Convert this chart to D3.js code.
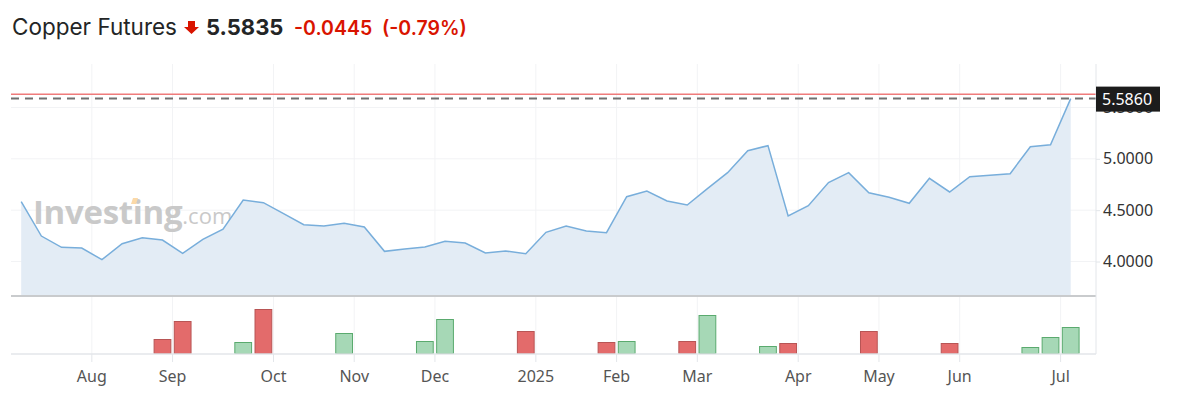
<!DOCTYPE html>
<html>
<head>
<meta charset="utf-8">
<script src="https://cdn.jsdelivr.net/npm/d3@7"></script>
<style>
  body { margin: 0; background: #fff; }
  svg { display: block; }
</style>
</head>
<body>
<div id="chart"></div>
<script>
// weekly closes, one year of copper futures
const weeks = [
  "2024-07-07", "2024-07-14", "2024-07-21", "2024-07-28", "2024-08-04", "2024-08-11",
  "2024-08-18", "2024-08-25", "2024-09-01", "2024-09-08", "2024-09-15", "2024-09-22",
  "2024-09-29", "2024-10-06", "2024-10-13", "2024-10-20", "2024-10-27", "2024-11-03",
  "2024-11-10", "2024-11-17", "2024-11-24", "2024-12-01", "2024-12-08", "2024-12-15",
  "2024-12-22", "2024-12-29", "2025-01-05", "2025-01-12", "2025-01-19", "2025-01-26",
  "2025-02-02", "2025-02-09", "2025-02-16", "2025-02-23", "2025-03-02", "2025-03-09",
  "2025-03-16", "2025-03-23", "2025-03-30", "2025-04-06", "2025-04-13", "2025-04-20",
  "2025-04-27", "2025-05-04", "2025-05-11", "2025-05-18", "2025-05-25", "2025-06-01",
  "2025-06-08", "2025-06-15", "2025-06-22", "2025-06-29", "2025-07-06"
];

const closes = [
  4.582, 4.248, 4.138, 4.131, 4.018, 4.173, 4.232, 4.209, 4.080, 4.216, 4.314, 4.599,
  4.573, 4.466, 4.358, 4.346, 4.372, 4.336, 4.099, 4.122, 4.141, 4.197, 4.180, 4.083,
  4.102, 4.076, 4.284, 4.346, 4.297, 4.281, 4.631, 4.686, 4.589, 4.550, 4.709, 4.865,
  5.079, 5.128, 4.443, 4.543, 4.769, 4.865, 4.670, 4.625, 4.567, 4.810, 4.677, 4.826,
  4.839, 4.855, 5.118, 5.137, 5.586
];

const volumes = [
  0, 0, 0, 0, 0, 0, 0, 1400, 3200, 0, 0, 1100,
  4400, 0, 0, 0, 2000, 0, 0, 0, 1200, 3400, 0, 0,
  0, 2200, 0, 0, 0, 1100, 1200, 0, 0, 1200, 3800, 0,
  0, 700, 1000, 0, 0, 0, 2200, 0, 0, 0, 1000, 0,
  0, 0, 600, 1600, 2600
];

const monthLabels = ["Aug", "Sep", "Oct", "Nov", "Dec", "2025", "Feb", "Mar", "Apr", "May", "Jun", "Jul"];
const monthFirstWeeks = [
  "2024-08-04", "2024-09-01", "2024-10-06", "2024-11-03", "2024-12-01", "2025-01-05",
  "2025-02-02", "2025-03-02", "2025-04-06", "2025-05-04", "2025-06-01", "2025-07-06"
];

const priceTicks = [4.0, 4.5, 5.0, 5.5];
const lastPrice = 5.586;
const prevClose = 5.628;

const title = "Copper Futures";
const quote = "5.5835";
const change = "-0.0445  (-0.79%)";

const W = 1183, H = 394;
const left = 11, axisX = 1096;

const svg = d3.select("#chart").append("svg")
  .attr("width", W)
  .attr("height", H);

const x = d3.scalePoint()
  .domain(weeks)
  .range([21.2, 1070.7]);
const step = x.step();

const y = d3.scaleLinear()
  .domain([3.674, 5.923])
  .range([295, 64]);

const yVol = d3.scaleLinear()
  .domain([0, 5600])
  .range([353.5, 297.5]);

// month tick positions sit half a week before the first week of the month
const monthX = monthFirstWeeks.map(w => x(w) - step / 2);

// header
svg.append("text")
  .attr("x", 12)
  .attr("y", 35)
  .style("font-family", "Inter, 'Noto Sans', sans-serif")
  .style("font-size", "22.5px")
  .attr("fill", "#232526")
  .text(title);

svg.append("path")
  .attr("d", "M188,21 h7 v6 h4 l-7.5,7 l-7.5,-7 h4 z")
  .attr("fill", "#d91400");

svg.append("text")
  .attr("x", 206)
  .attr("y", 35)
  .style("font-family", "Inter, 'Noto Sans', sans-serif")
  .style("font-size", "22px")
  .style("font-weight", 700)
  .attr("fill", "#232526")
  .text(quote);

svg.append("text")
  .attr("x", 294)
  .attr("y", 35)
  .style("font-family", "Inter, 'Noto Sans', sans-serif")
  .style("font-size", "19.5px")
  .style("font-weight", 600)
  .style("white-space", "pre")
  .attr("fill", "#d91400")
  .text(change);

// grid
svg.append("g").selectAll("line")
  .data(monthX)
  .enter().append("line")
  .attr("x1", d => d).attr("x2", d => d)
  .attr("y1", 64).attr("y2", 354)
  .attr("stroke", "#f2f3f5");

svg.append("g").selectAll("line")
  .data(priceTicks)
  .enter().append("line")
  .attr("x1", left).attr("x2", axisX)
  .attr("y1", d => y(d)).attr("y2", d => y(d))
  .attr("stroke", "#f2f3f5");

// watermark
const wm = svg.append("g");
wm.append("text")
  .attr("x", 33)
  .attr("y", 224)
  .style("font-family", "'Open Sans', 'Noto Sans', sans-serif")
  .style("font-size", "33px")
  .style("font-weight", 700)
  .style("letter-spacing", "-0.3px")
  .attr("fill", "#c9c9c9")
  .text("Investing")
  .append("tspan")
  .style("font-weight", 400)
  .style("font-size", "22px")
  .style("letter-spacing", "0px")
  .text(".com");
wm.append("path")
  .attr("d", "M131,204 l2,-6 h5 l-2,6 z")
  .attr("fill", "#fbd9a8");

// price area + line
const area = d3.area()
  .x((d, i) => x(weeks[i]))
  .y0(295)
  .y1(d => y(d));

const line = d3.line()
  .x((d, i) => x(weeks[i]))
  .y(d => y(d));

svg.append("path")
  .datum(closes)
  .attr("d", area)
  .attr("fill", "#e3ecf5");

svg.append("path")
  .datum(closes)
  .attr("d", line)
  .attr("fill", "none")
  .attr("stroke", "#78aedb")
  .attr("stroke-width", 1.5);

// previous close and last price
svg.append("line")
  .attr("x1", left).attr("x2", axisX)
  .attr("y1", y(prevClose)).attr("y2", y(prevClose))
  .attr("stroke", "#ef7b7b")
  .attr("stroke-width", 1.5);

svg.append("line")
  .attr("x1", left).attr("x2", axisX)
  .attr("y1", y(lastPrice)).attr("y2", y(lastPrice))
  .attr("stroke", "#707070")
  .attr("stroke-width", 2)
  .attr("stroke-dasharray", "8,6");

// pane separator
svg.append("line")
  .attr("x1", left).attr("x2", axisX)
  .attr("y1", 296).attr("y2", 296)
  .attr("stroke", "#c9cbcd")
  .attr("stroke-width", 2);

// volume bars
const barW = step * 0.88;
svg.append("g").selectAll("rect")
  .data(volumes)
  .enter().append("rect")
  .attr("x", (d, i) => x(weeks[i]) - barW / 2 + 0.5)
  .attr("y", d => yVol(d))
  .attr("width", barW - 1)
  .attr("height", d => yVol(0) - yVol(d))
  .attr("fill", (d, i) => i > 0 && closes[i] >= closes[i - 1] ? "#a6d8b6" : "#e36b6b")
  .attr("stroke", (d, i) => i > 0 && closes[i] >= closes[i - 1] ? "#5aaa6e" : "#b85555")
  .attr("stroke-opacity", d => d > 0 ? 1 : 0.25)
  .attr("stroke-width", 1);

// right axis
const yAxis = d3.axisRight(y)
  .tickValues(priceTicks)
  .tickSize(4)
  .tickFormat(d3.format(".4f"));

const gy = svg.append("g")
  .attr("transform", `translate(${axisX},0)`)
  .call(yAxis);
gy.select(".domain").remove();
gy.selectAll(".tick line").attr("stroke", "#e3e6ea");
gy.selectAll(".tick text")
  .attr("x", 7)
  .attr("fill", "#333")
  .style("font-family", "'Noto Sans', sans-serif")
  .style("font-size", "16px");

svg.append("line")
  .attr("x1", axisX).attr("x2", axisX)
  .attr("y1", 64).attr("y2", 354)
  .attr("stroke", "#e3e6ea");

// last price tag
svg.append("rect")
  .attr("x", axisX)
  .attr("y", y(lastPrice) - 12)
  .attr("width", 64)
  .attr("height", 25)
  .attr("fill", "#1c1c1c");
svg.append("text")
  .attr("x", axisX + 6)
  .attr("y", y(lastPrice) + 6)
  .attr("fill", "#fff")
  .style("font-family", "'Noto Sans', sans-serif")
  .style("font-size", "16px")
  .text(d3.format(".4f")(lastPrice));

// bottom axis
svg.append("line")
  .attr("x1", left).attr("x2", axisX)
  .attr("y1", 354).attr("y2", 354)
  .attr("stroke", "#e3e6ea")
  .attr("stroke-width", 1.5);

const xt = svg.append("g").selectAll("g")
  .data(monthLabels)
  .enter().append("g")
  .attr("transform", (d, i) => `translate(${monthX[i]},0)`);

xt.append("line")
  .attr("y1", 354).attr("y2", 362)
  .attr("stroke", "#e3e6ea");

xt.append("text")
  .attr("y", 382)
  .attr("text-anchor", "middle")
  .attr("fill", "#555")
  .style("font-family", "'Noto Sans', sans-serif")
  .style("font-size", "16px")
  .text(d => d);
</script>
</body>
</html>
